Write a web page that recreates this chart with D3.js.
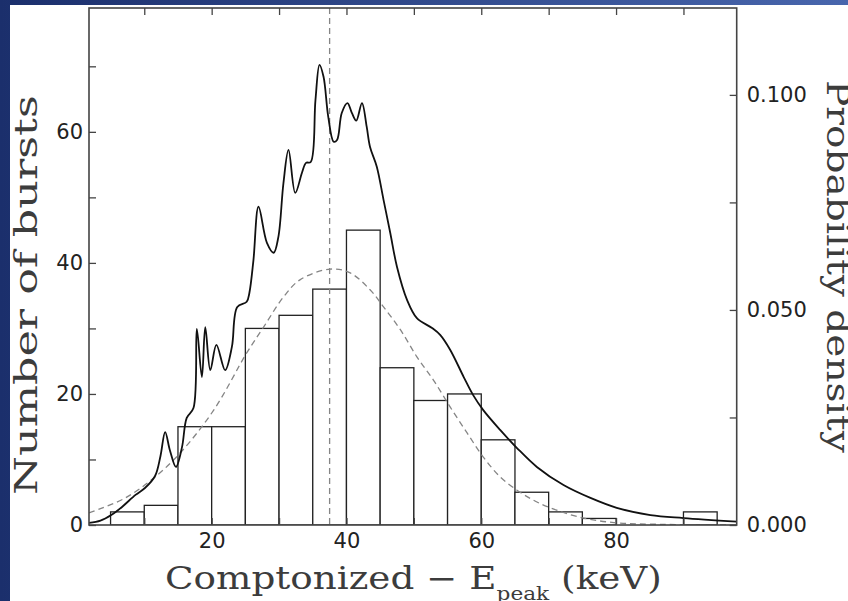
<!DOCTYPE html>
<html>
<head>
<meta charset="utf-8">
<script src="https://cdn.jsdelivr.net/npm/d3@7"></script>
<style>
  html, body { margin: 0; padding: 0; background: #fff; }
  svg { display: block; }
</style>
</head>
<body>
<svg id="chart" width="848" height="601"></svg>
<script>
// ---------------- DATA ----------------
const binLower  = [0, 5, 10, 15, 20, 25, 30, 35, 40, 45, 50, 55, 60, 65, 70, 75, 80, 85, 90, 95];
const binUpper  = [5, 10, 15, 20, 25, 30, 35, 40, 45, 50, 55, 60, 65, 70, 75, 80, 85, 90, 95, 100];
const binCounts = [0, 2, 3, 15, 15, 30, 32, 36, 45, 24, 19, 20, 13, 5, 2, 1, 0, 0, 2, 0];

// kernel density estimate (solid curve), probability density (right axis)
const kdeE = [1.8, 3.5, 5.1, 6.7, 8.7, 10.1, 11.6, 12.4, 13.1, 13.8, 14.7, 15.6, 16.3, 17.3,
  17.8, 18.55, 19.05, 19.8, 20.7, 22.0, 23.0, 23.8, 25.2, 25.6, 26.2, 26.95, 28.2, 29.2, 29.9,
  30.65, 31.4, 32.4, 33.4, 34.0, 34.7, 35.4, 36.0, 36.6, 37.3, 38.1, 38.6, 39.3, 40.15, 40.8,
  41.45, 42.3, 43.0, 43.5, 44.5, 45.5, 46.5, 47.5, 49.0, 50.45, 52.7, 53.9, 55.4, 57.4, 58.8,
  60.3, 62.8, 65.3, 68.25, 72.2, 76.2, 80.1, 85.1, 90.0, 97.9];
const kdeDens = [0.0005, 0.0010, 0.0023, 0.0042, 0.0070, 0.0086, 0.0114, 0.0160, 0.0216, 0.0174, 0.0135, 0.0181, 0.0249, 0.0272,
  0.0456, 0.0344, 0.0460, 0.0360, 0.0419, 0.0360, 0.0414, 0.0507, 0.0519, 0.0540, 0.0616, 0.0740, 0.0656, 0.0633, 0.0670,
  0.0795, 0.0872, 0.0772, 0.0819, 0.0842, 0.0844, 0.0988, 0.1070, 0.1042, 0.0949, 0.0891, 0.0895, 0.0958, 0.0981, 0.0958,
  0.0940, 0.0981, 0.0926, 0.0879, 0.0833, 0.0756, 0.0679, 0.0600, 0.0523, 0.0481, 0.0458, 0.0442, 0.0407, 0.0344, 0.0302,
  0.0267, 0.0221, 0.0179, 0.0135, 0.0093, 0.0063, 0.0040, 0.0023, 0.0016, 0.0008];

// fitted distribution (dashed curve)
const fitE = [1.8, 3.5, 7.2, 11.4, 15.3, 20.3, 25.2, 27.7, 30.65, 33.1, 37.6, 40.55, 43.5, 45.5, 48.0,
  50.45, 52.9, 55.4, 57.9, 60.3, 62.8, 65.3, 67.7, 70.2, 75.2, 80.1, 85.1, 97.9];
const fitDens = [0.0028, 0.0038, 0.0063, 0.0109, 0.0167, 0.0267, 0.0400, 0.0460, 0.0530, 0.0570, 0.0595, 0.0586, 0.0547, 0.0507, 0.0454,
  0.0391, 0.0337, 0.0274, 0.0214, 0.0158, 0.0112, 0.0081, 0.0058, 0.0040, 0.0016, 0.0005, 0.0002, 0.0000];

const medianE = 37.5;

const xTicks = [10, 20, 30, 40, 50, 60, 70, 80, 90];
const xLabels = [20, 40, 60, 80];
const yTicks = [0, 10, 20, 30, 40, 50, 60, 70];
const yLabels = [0, 20, 40, 60];
const y2Ticks = [0, 0.025, 0.05, 0.075, 0.1];
const y2Labels = [0, 0.05, 0.1];

const xTitleMain = "Comptonized \u2212 E";
const xTitleSub = "peak";
const xTitleEnd = " (keV)";
const yTitle = "Number of bursts";
const y2Title = "Probability density";

// ---------------- LAYOUT ----------------
const svg = d3.select("#chart");
const L = 89, R = 736.7, T = 8, B = 525;

const defs = svg.append("defs");
const grad = defs.append("linearGradient").attr("id", "bg").attr("x1", "0").attr("x2", "1").attr("y1", "0").attr("y2", "0");
grad.append("stop").attr("offset", "0").attr("stop-color", "#1b2f6c");
grad.append("stop").attr("offset", "1").attr("stop-color", "#4866ad");
defs.append("clipPath").attr("id", "plotclip").append("rect")
  .attr("x", L).attr("y", T).attr("width", R - L).attr("height", B - T);

svg.append("rect").attr("width", 848).attr("height", 601).attr("fill", "url(#bg)");
svg.append("rect").attr("x", 10).attr("y", 5).attr("width", 838).attr("height", 596).attr("fill", "#ffffff");

const x = d3.scaleLinear().domain([1.8, 97.9]).range([L, R]);
const y = d3.scaleLinear().domain([0, 78.9]).range([B, T]);
const y2 = d3.scaleLinear().domain([0, 0.1202]).range([B, T]);

const plot = svg.append("g").attr("clip-path", "url(#plotclip)");

// histogram bars
const bins = binLower.map((lo, i) => ({ lo, hi: binUpper[i], n: binCounts[i] })).filter(d => d.n > 0);
plot.selectAll("rect.bar").data(bins).join("rect")
  .attr("class", "bar")
  .attr("x", d => x(d.lo))
  .attr("y", d => y(d.n))
  .attr("width", d => x(d.hi) - x(d.lo))
  .attr("height", d => y(0) - y(d.n))
  .attr("fill", "#ffffff")
  .attr("stroke", "#222")
  .attr("stroke-width", 1.3);

// fitted dashed curve
const fitLine = d3.line().x(d => x(d[0])).y(d => y2(d[1])).curve(d3.curveCatmullRom.alpha(0.5));
plot.append("path")
  .datum(fitE.map((e, i) => [e, fitDens[i]]))
  .attr("d", fitLine)
  .attr("fill", "none")
  .attr("stroke", "#858585")
  .attr("stroke-width", 1.3)
  .attr("stroke-dasharray", "6,4");

// median dashed vertical
plot.append("line")
  .attr("x1", x(medianE)).attr("x2", x(medianE))
  .attr("y1", T).attr("y2", B)
  .attr("stroke", "#858585")
  .attr("stroke-width", 1.3)
  .attr("stroke-dasharray", "6,4");

// KDE solid curve
const kdeLine = d3.line().x(d => x(d[0])).y(d => y2(d[1])).curve(d3.curveCatmullRom.alpha(0.5));
plot.append("path")
  .datum(kdeE.map((e, i) => [e, kdeDens[i]]))
  .attr("d", kdeLine)
  .attr("fill", "none")
  .attr("stroke", "#111")
  .attr("stroke-width", 1.8);

// axes
const tickFont = "'DejaVu Sans', sans-serif";
function styleAxis(g) {
  g.select(".domain").remove();
  g.selectAll(".tick line").attr("stroke", "#444").attr("stroke-width", 1.3);
  g.selectAll(".tick text").attr("font-family", tickFont).attr("font-size", 21).attr("fill", "#222");
}
svg.append("g").attr("transform", `translate(0,${B})`)
  .call(d3.axisBottom(x).tickValues(xTicks).tickSize(-7).tickPadding(8)
    .tickFormat(d => xLabels.includes(d) ? d3.format("d")(d) : ""))
  .call(styleAxis);
svg.append("g").attr("transform", `translate(0,${T})`)
  .call(d3.axisTop(x).tickValues(xTicks).tickSize(-7).tickFormat(() => ""))
  .call(styleAxis);
svg.append("g").attr("transform", `translate(${L},0)`)
  .call(d3.axisLeft(y).tickValues(yTicks).tickSize(-7).tickPadding(6)
    .tickFormat(d => yLabels.includes(d) ? d3.format("d")(d) : ""))
  .call(styleAxis);
svg.append("g").attr("transform", `translate(${R},0)`)
  .call(d3.axisRight(y2).tickValues(y2Ticks).tickSize(-7).tickPadding(10)
    .tickFormat(d => y2Labels.some(v => Math.abs(v - d) < 1e-9) ? d3.format(".3f")(d) : ""))
  .call(styleAxis);

// frame
svg.append("rect").attr("x", L).attr("y", T).attr("width", R - L).attr("height", B - T)
  .attr("fill", "none").attr("stroke", "#444").attr("stroke-width", 1.6);

// titles
const titleFont = "'DejaVu Serif', serif";
function fitText(sel, targetW) {
  const w = sel.node().getComputedTextLength();
  return targetW / w;
}
const xt = svg.append("text")
  .attr("font-family", titleFont).attr("font-size", 31).attr("fill", "#3c3c3c");
xt.append("tspan").text(xTitleMain);
xt.append("tspan").attr("font-size", 18).attr("dy", 11).text(xTitleSub);
xt.append("tspan").attr("dy", -11).text(xTitleEnd);
const sx = fitText(xt, 497);
xt.attr("transform", `translate(165,588.5) scale(${sx},1)`);

const yt = svg.append("text")
  .attr("font-family", titleFont).attr("font-size", 32).attr("fill", "#3c3c3c").text(yTitle);
const sy = fitText(yt, 400);
yt.attr("transform", `translate(36.5,495) rotate(-90) scale(${sy},1)`);

const y2t = svg.append("text")
  .attr("font-family", titleFont).attr("font-size", 32).attr("fill", "#3c3c3c").text(y2Title);
const sy2 = fitText(y2t, 373);
y2t.attr("transform", `translate(827,80) rotate(90) scale(${sy2},1)`);
</script>
</body>
</html>
